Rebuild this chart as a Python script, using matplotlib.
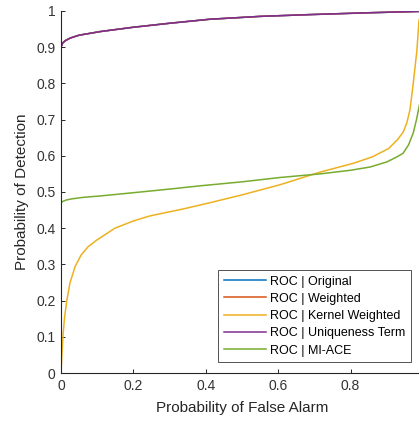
import matplotlib.pyplot as plt

plt.rcParams['font.family'] = ['Liberation Sans', 'DejaVu Sans']

labels = ['ROC | Original', 'ROC | Weighted', 'ROC | Kernel Weighted',
          'ROC | Uniqueness Term', 'ROC | MI-ACE']
colors = ['#0072BD', '#D95319', '#EDB120', '#7E2F8E', '#77AC30']

# top curve (original / weighted / uniqueness coincide)
top_x = [0, 0, 0.005, 0.012, 0.025, 0.05, 0.108, 0.2, 0.3, 0.41, 0.55, 0.69, 0.85, 1.0]
top_y = [0, 0.9, 0.912, 0.918, 0.925, 0.933, 0.943, 0.955, 0.966, 0.977, 0.985, 0.99, 0.995, 0.999]

kern_x = [0, 0.003, 0.006, 0.01, 0.016, 0.025, 0.039, 0.055, 0.075, 0.1, 0.149, 0.2, 0.246,
          0.337, 0.41, 0.5, 0.605, 0.716, 0.807, 0.86, 0.905, 0.93, 0.945, 0.955, 0.964,
          0.973, 0.983, 0.989, 1.0]
kern_y = [0, 0.06, 0.11, 0.155, 0.2, 0.25, 0.294, 0.325, 0.349, 0.368, 0.40, 0.42, 0.434,
          0.453, 0.47, 0.492, 0.52, 0.555, 0.579, 0.597, 0.62, 0.645, 0.665, 0.69, 0.727,
          0.80, 0.89, 0.975, 1.0]

mi_x = [0, 0, 0.005, 0.015, 0.03, 0.06, 0.108, 0.2, 0.3, 0.384, 0.5, 0.605, 0.716, 0.8,
        0.854, 0.9, 0.928, 0.945, 0.96, 0.973, 0.982, 0.99, 1.0]
mi_y = [0, 0.47, 0.474, 0.478, 0.481, 0.485, 0.489, 0.498, 0.508, 0.517, 0.528, 0.54, 0.55,
        0.56, 0.569, 0.583, 0.597, 0.607, 0.63, 0.663, 0.70, 0.74, 0.8]

series_x = [top_x, top_x, kern_x, top_x, mi_x]
series_y = [top_y, top_y, kern_y, top_y, mi_y]

fig = plt.figure(figsize=(4.19, 4.21), dpi=100)
ax = fig.add_axes([0.1456, 0.114, 0.864, 0.86])

for xs, ys, c, lab in zip(series_x, series_y, colors, labels):
    ax.plot(xs, ys, color=c, lw=1.1, label=lab)

ax.set_xlim(0, 1)
ax.set_ylim(0, 1)
ax.set_xticks([0, 0.2, 0.4, 0.6, 0.8, 1])
ax.set_xticklabels(['0', '0.2', '0.4', '0.6', '0.8', ''])
ax.set_yticks([i / 10 for i in range(11)])
ax.set_yticklabels(['0', '0.1', '0.2', '0.3', '0.4', '0.5', '0.6', '0.7', '0.8', '0.9', '1'])
ax.tick_params(direction='in', length=3, width=0.7, labelsize=10, colors='#262626',
               labelcolor='#333333', pad=4)
ax.spines['top'].set_visible(False)
ax.spines['right'].set_visible(False)
for s in ['left', 'bottom']:
    ax.spines[s].set_color('#262626')
    ax.spines[s].set_linewidth(0.8)

ax.set_xlabel('Probability of False Alarm', fontsize=11, color='#262626', labelpad=6)
ax.set_ylabel('Probability of Detection', fontsize=11, color='#262626', labelpad=5)

leg = ax.legend(loc='lower left', bbox_to_anchor=(0.434, 0.03), fontsize=9,
                frameon=True, fancybox=False, handlelength=3.4, handletextpad=0.3,
                labelspacing=0.42, borderpad=0.45, borderaxespad=0)
leg.get_frame().set_edgecolor('#262626')
leg.get_frame().set_linewidth(0.7)

fig.savefig('out.png', dpi=100)
